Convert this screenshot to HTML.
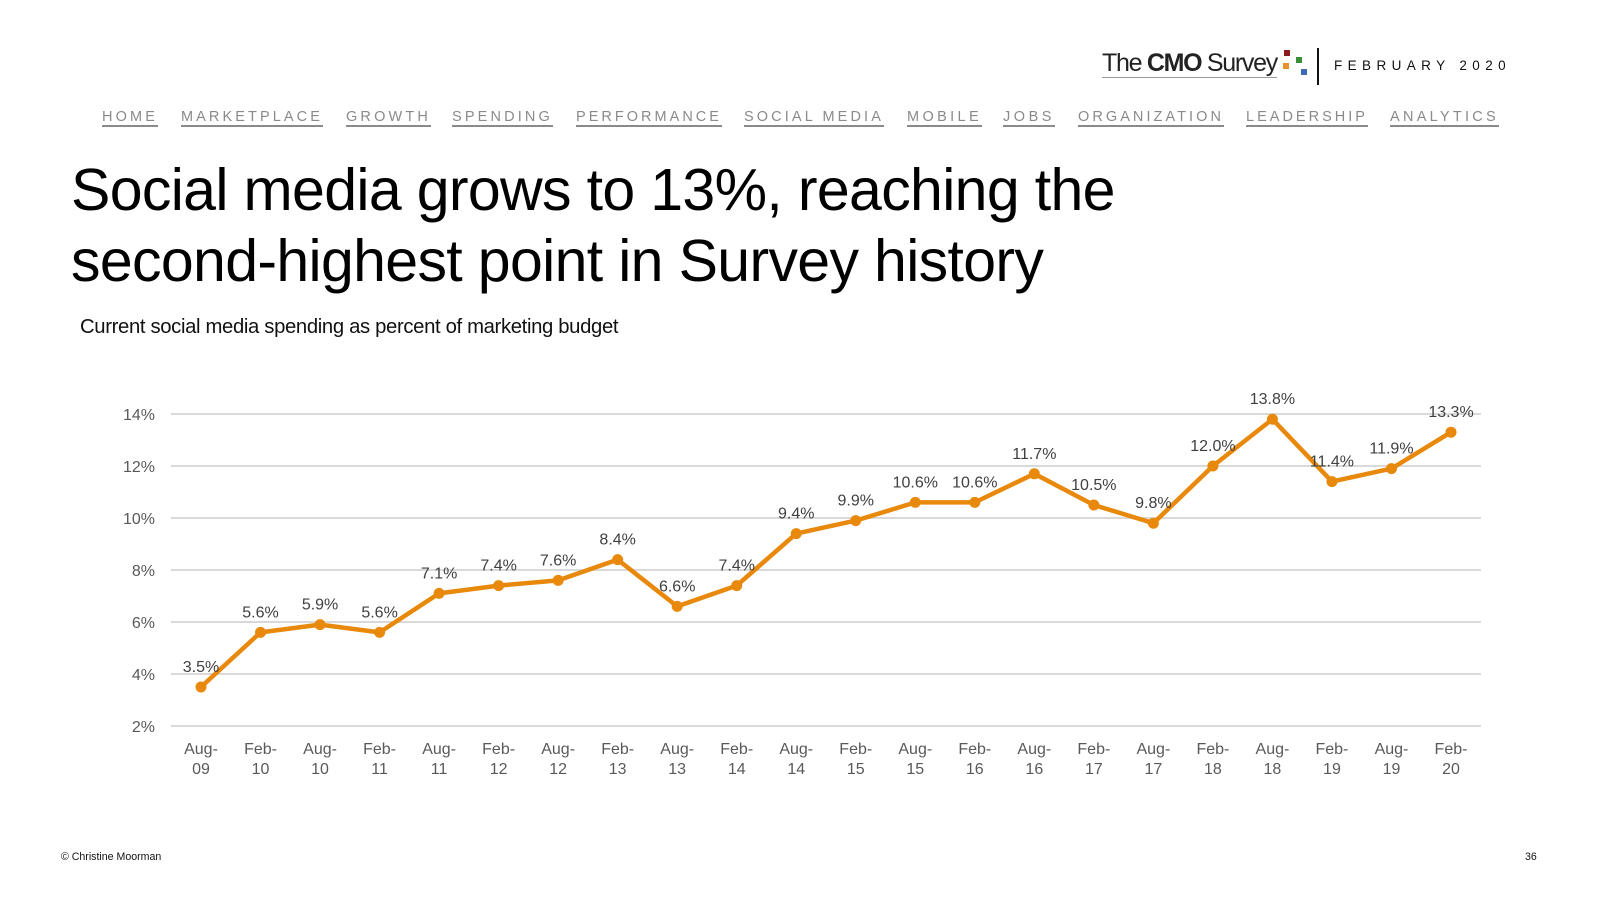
<!DOCTYPE html>
<html><head><meta charset="utf-8"><style>
body{margin:0;width:1600px;height:900px;background:#fff;position:relative;overflow:hidden;font-family:"Liberation Sans",sans-serif;}
.nav{position:absolute;top:110px;font-size:14.5px;letter-spacing:3px;color:#8a8a8a;border-bottom:2px solid #8a8a8a;line-height:15px;padding-bottom:0;white-space:nowrap}
.abs{position:absolute;white-space:nowrap}
</style></head><body>
<div class="abs" style="left:1102px;top:50px;font-size:25px;letter-spacing:-1.3px;color:#222;border-bottom:1px solid #999;line-height:27px">The <b>CMO</b> Survey</div>
<div class="abs" style="left:1284px;top:50px;width:6px;height:6px;background:#8b1a1a"></div>
<div class="abs" style="left:1283px;top:63px;width:6px;height:6px;background:#e8902a"></div>
<div class="abs" style="left:1296px;top:57px;width:6px;height:6px;background:#3b8f3b"></div>
<div class="abs" style="left:1301px;top:69px;width:6px;height:6px;background:#3a6fb5"></div>
<div class="abs" style="left:1317px;top:48px;width:2px;height:37px;background:#111"></div>
<div class="abs" style="left:1334px;top:58px;font-size:13.5px;letter-spacing:5.4px;color:#111">FEBRUARY 2020</div>

<div class="nav" data-w="56" style="left:102px">HOME</div>
<div class="nav" data-w="142" style="left:181px">MARKETPLACE</div>
<div class="nav" data-w="85" style="left:346px">GROWTH</div>
<div class="nav" data-w="101" style="left:452px">SPENDING</div>
<div class="nav" data-w="146" style="left:576px">PERFORMANCE</div>
<div class="nav" data-w="140" style="left:744px">SOCIAL MEDIA</div>
<div class="nav" data-w="75" style="left:907px">MOBILE</div>
<div class="nav" data-w="52" style="left:1003px">JOBS</div>
<div class="nav" data-w="146" style="left:1078px">ORGANIZATION</div>
<div class="nav" data-w="122" style="left:1246px">LEADERSHIP</div>
<div class="nav" data-w="109" style="left:1390px">ANALYTICS</div>

<div class="abs" style="left:71px;top:155px;font-size:59px;line-height:71px;color:#000;letter-spacing:-0.65px">Social media grows to 13%, reaching the<br>second-highest point in Survey history</div>
<div class="abs" style="left:80px;top:316px;font-size:20.3px;color:#111;letter-spacing:-0.35px">Current social media spending as percent of marketing budget</div>

<svg id="chart" width="1600" height="900" style="position:absolute;left:0;top:0" xmlns="http://www.w3.org/2000/svg"></svg>

<div class="abs" style="left:61px;top:851px;font-size:10.6px;color:#111">© Christine Moorman</div>
<div class="abs" style="left:1525px;top:851px;font-size:10.6px;color:#111">36</div>

<script>
const categories = ["Aug-09","Feb-10","Aug-10","Feb-11","Aug-11","Feb-12","Aug-12","Feb-13","Aug-13","Feb-14","Aug-14","Feb-15","Aug-15","Feb-16","Aug-16","Feb-17","Aug-17","Feb-18","Aug-18","Feb-19","Aug-19","Feb-20"];
const values = [3.5,5.6,5.9,5.6,7.1,7.4,7.6,8.4,6.6,7.4,9.4,9.9,10.6,10.6,11.7,10.5,9.8,12.0,13.8,11.4,11.9,13.3];
const yTicks = [2,4,6,8,10,12,14];
const yTickLabels = ["2%","4%","6%","8%","10%","12%","14%"];

document.querySelectorAll('.nav').forEach(n=>{
  const target = +n.dataset.w;
  const txt = n.textContent;
  const w = n.getBoundingClientRect().width;
  const cur = 3;
  const ls = cur + (target - w) / txt.length;
  n.style.letterSpacing = ls + 'px';
});

const svg = document.getElementById('chart');
const NS = 'http://www.w3.org/2000/svg';
const x = i => 201 + i * (1250 / (categories.length - 1));
const y = v => 726 - (v - 2) * 26;
function mk(tag, attrs){const e=document.createElementNS(NS,tag);for(const k in attrs)e.setAttribute(k,attrs[k]);svg.appendChild(e);return e;}

yTicks.forEach((t,i)=>{
  const g = mk('line',{x1:171,x2:1481,y1:y(t),y2:y(t),stroke:'#d9d9d9','stroke-width':2});
  
  
  const l = mk('text',{x:155,y:y(t)+6,'text-anchor':'end','font-size':16,fill:'#595959','font-family':'Liberation Sans, sans-serif'});
  l.textContent = yTickLabels[i];
  
  
});

categories.forEach((c,i)=>{
  const [a,b] = c.split('-');
  const t = mk('text',{x:x(i),y:754,'text-anchor':'middle','font-size':16,fill:'#595959','font-family':'Liberation Sans, sans-serif'});
  t.textContent = a + '-';
  
  
  const t2 = mk('text',{x:x(i),y:774,'text-anchor':'middle','font-size':16,fill:'#595959','font-family':'Liberation Sans, sans-serif'});
  t2.textContent = b;
  
  
});

const pts = values.map((v,i)=>x(i)+','+y(v)).join(' ');
const line = mk('polyline',{points:pts,fill:'none',stroke:'#e8890c','stroke-width':4.5,'stroke-linejoin':'round'});



values.forEach((v,i)=>{
  const p = mk('circle',{cx:x(i),cy:y(v),r:5.5,fill:'#e8890c'});
  
  
  const t = mk('text',{x:x(i),y:y(v)-15,'text-anchor':'middle','font-size':16,fill:'#404040','font-family':'Liberation Sans, sans-serif'});
  t.textContent = v.toFixed(1) + '%';
  
  
});
</script>
</body></html>
